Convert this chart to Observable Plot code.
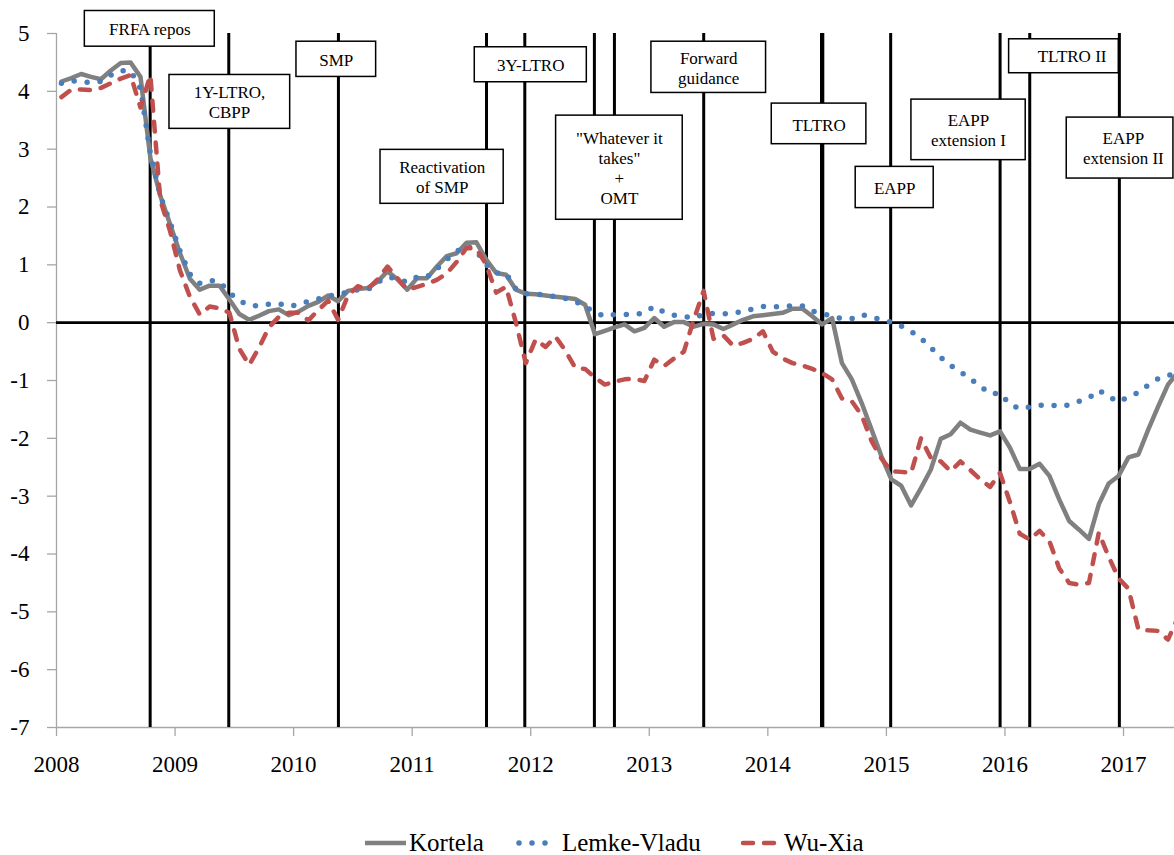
<!DOCTYPE html>
<html>
<head>
<meta charset="utf-8">
<script src="https://cdn.jsdelivr.net/npm/d3@7"></script>
<script src="https://cdn.jsdelivr.net/npm/@observablehq/plot@0.6"></script>
<style>
  body { margin: 0; background: #fff; position: relative; width: 1174px; height: 855px; overflow: hidden; }
  #chart { position: absolute; left: 0; top: 0; }
  #chart svg, #chart svg text { font-family: "Liberation Serif", "Times New Roman", "DejaVu Serif", serif !important; }
  .lg { position: absolute; font-family: "Liberation Serif", "Times New Roman", "DejaVu Serif", serif; font-size: 25px; line-height: 28px; color: #000; white-space: nowrap; }
  .sw { position: absolute; }
</style>
</head>
<body>
<div id="chart"></div>
<div id="legend"></div>
<script>
// ---- categories: monthly observations Jan 2008 .. Jun 2017 (plotted mid-month, decimal years)
const monthCount = 114;
const months = d3.range(monthCount).map(i => 2008 + (i + 0.5) / 12);

// ---- tick labels
const xTicks = d3.range(2008, 2018);
const yTicks = d3.range(-7, 6);

// ---- series values (%)
const kortela = [
  4.17, 4.23, 4.30, 4.25, 4.21, 4.36, 4.49, 4.50, 4.25, 2.85, 2.20, 1.70,
  1.20, 0.76, 0.57, 0.64, 0.64, 0.40, 0.15, 0.05, 0.12, 0.20, 0.23, 0.13,
  0.19, 0.29, 0.36, 0.47, 0.37, 0.55, 0.58, 0.60, 0.71, 0.89, 0.75, 0.57,
  0.77, 0.77, 0.97, 1.15, 1.20, 1.38, 1.39, 1.09, 0.86, 0.83, 0.57, 0.50,
  0.49, 0.47, 0.45, 0.43, 0.41, 0.31, -0.20, -0.14, -0.08, -0.03, -0.15, -0.09,
  0.08, -0.07, 0.01, 0.01, -0.07, -0.02, -0.03, -0.11, -0.03, 0.05, 0.11, 0.13,
  0.15, 0.17, 0.24, 0.24, 0.11, -0.03, 0.08, -0.70, -0.98, -1.39, -1.85, -2.31,
  -2.71, -2.82, -3.16, -2.86, -2.54, -2.01, -1.93, -1.73, -1.85, -1.90, -1.95, -1.88,
  -2.16, -2.53, -2.53, -2.44, -2.65, -3.06, -3.43, -3.58, -3.74, -3.14, -2.78, -2.65,
  -2.33, -2.28, -1.85, -1.45, -1.07, -0.86
];
const lemkeVladu = [
  4.14, 4.18, 4.17, 4.15, 4.17, 4.28, 4.36, 4.35, 4.05, 2.93, 2.20, 1.73,
  1.24, 0.84, 0.68, 0.73, 0.71, 0.52, 0.38, 0.30, 0.29, 0.32, 0.33, 0.28,
  0.31, 0.37, 0.41, 0.46, 0.49, 0.53, 0.57, 0.57, 0.70, 0.79, 0.76, 0.70,
  0.79, 0.79, 0.93, 1.09, 1.23, 1.33, 1.24, 1.00, 0.86, 0.85, 0.58, 0.50,
  0.50, 0.47, 0.45, 0.42, 0.37, 0.28, 0.18, 0.11, 0.14, 0.14, 0.14, 0.17,
  0.28, 0.18, 0.13, 0.11, 0.08, 0.15, 0.16, 0.15, 0.17, 0.19, 0.24, 0.28,
  0.27, 0.28, 0.29, 0.29, 0.20, 0.16, 0.11, 0.07, 0.07, 0.14, 0.10, 0.05,
  0.01, -0.06, -0.15, -0.27, -0.43, -0.60, -0.74, -0.85, -0.97, -1.10, -1.23, -1.22,
  -1.41, -1.49, -1.46, -1.43, -1.42, -1.45, -1.42, -1.36, -1.30, -1.17, -1.28, -1.37,
  -1.28, -1.21, -1.08, -0.97, -0.91, -0.88
];
const wuXia = [
  3.90, 4.03, 4.03, 4.02, 4.06, 4.14, 4.22, 4.28, 3.72, 4.28, 2.12, 1.58,
  0.90, 0.45, 0.14, 0.28, 0.25, 0.17, -0.45, -0.73, -0.43, -0.08, 0.10, 0.17,
  0.17, 0.04, 0.22, 0.38, 0.05, 0.47, 0.63, 0.58, 0.75, 0.97, 0.77, 0.57,
  0.62, 0.67, 0.74, 0.85, 1.05, 1.29, 1.28, 1.00, 0.52, 0.62, 0.00, -0.70,
  -0.29, -0.42, -0.24, -0.48, -0.78, -0.80, -0.95, -1.07, -1.02, -0.98, -0.97, -1.01,
  -0.64, -0.75, -0.62, -0.50, 0.05, 0.55, -0.28, -0.22, -0.40, -0.35, -0.28, -0.15,
  -0.50, -0.62, -0.70, -0.74, -0.80, -0.87, -0.98, -1.31, -1.36, -1.60, -2.05, -2.35,
  -2.57, -2.58, -2.60, -2.00, -2.34, -2.40, -2.57, -2.40, -2.55, -2.71, -2.84, -2.60,
  -3.10, -3.65, -3.75, -3.60, -3.78, -4.25, -4.50, -4.53, -4.50, -3.63, -4.05, -4.42,
  -4.60, -5.30, -5.32, -5.33, -5.48, -5.10
];

// ---- policy events (decimal year of announcement)
const eventNames = ["FRFA repos", "1Y-LTRO, CBPP", "SMP", "Reactivation of SMP", "3Y-LTRO",
  "\"Whatever it takes\"", "OMT", "Forward guidance", "TLTRO", "EAPP", "EAPP extension I", "TLTRO II", "EAPP extension II"];
const eventDates = [2008.790, 2009.453, 2010.378, 2011.627, 2011.950,
  2012.537, 2012.706, 2013.459, 2014.458, 2015.036, 2015.959, 2016.209, 2016.965];

// ---- annotation labels (text)
const boxLabels = ["FRFA repos", "1Y-LTRO,\nCBPP", "SMP", "Reactivation\nof SMP", "3Y-LTRO",
  "\"Whatever it\ntakes\"\n+\nOMT", "Forward\nguidance", "TLTRO", "EAPP", "EAPP\nextension I", "TLTRO II", "EAPP\nextension II"];

// ---- annotation layout (data units), kept separate from the values
const boxLayout = [
  {x1: 2008.239, x2: 2009.335, y1: 4.772, y2: 5.389, tx: 2008.787, ty: 5.078},
  {x1: 2008.953, x2: 2009.971, y1: 3.351, y2: 4.283, tx: 2009.459, ty: 3.817},
  {x1: 2010.024, x2: 2010.696, y1: 4.249, y2: 4.858, tx: 2010.360, ty: 4.551},
  {x1: 2010.733, x2: 2011.772, y1: 2.055, y2: 2.988, tx: 2011.253, ty: 2.522},
  {x1: 2011.528, x2: 2012.473, y1: 4.157, y2: 4.762, tx: 2012.000, ty: 4.465},
  {x1: 2012.214, x2: 2013.282, y1: 1.779, y2: 3.580, tx: 2012.748, ty: 2.677},
  {x1: 2013.018, x2: 2013.985, y1: 3.972, y2: 4.858, tx: 2013.501, ty: 4.413},
  {x1: 2014.033, x2: 2014.831, y1: 3.086, y2: 3.788, tx: 2014.432, ty: 3.428},
  {x1: 2014.741, x2: 2015.399, y1: 1.981, y2: 2.694, tx: 2015.070, ty: 2.332},
  {x1: 2015.211, x2: 2016.175, y1: 2.810, y2: 3.857, tx: 2015.692, ty: 3.333},
  {x1: 2016.035, x2: 2016.960, y1: 4.313, y2: 4.900, tx: 2016.566, ty: 4.611},
  {x1: 2016.521, x2: 2017.421, y1: 2.492, y2: 3.546, tx: 2016.999, ty: 3.022}
];

const xDomain = [2008, 2017.43];
const yDomain = [-7, 5];

const kData = months.map((x, i) => ({x, y: kortela[i]}));
const lData = months.map((x, i) => ({x, y: lemkeVladu[i]}));
const wData = months.map((x, i) => ({x, y: wuXia[i]}));
const events = eventDates.map((d, i) => ({date: d, name: eventNames[i]}));
const boxes = boxLayout.map((b, i) => ({...b, label: boxLabels[i]}));

const GRAY = "#808080", BLUE = "#4a7ebb", RED = "#c0504d", AXIS = "#a6a6a6";
const FONT = "'Liberation Serif', 'Times New Roman', 'DejaVu Serif', serif";

const chart = Plot.plot({
  width: 1174,
  height: 800,
  marginLeft: 56,
  marginRight: 0,
  marginTop: 33,
  marginBottom: 73,
  style: {fontFamily: FONT, fontSize: "23px", background: "white", overflow: "visible"},
  x: {type: "linear", domain: xDomain, axis: null},
  y: {type: "linear", domain: yDomain, axis: null},
  marks: [
    Plot.ruleX([xDomain[0]], {stroke: AXIS, strokeWidth: 1.3}),
    Plot.ruleY([yDomain[0]], {stroke: AXIS, strokeWidth: 1.3}),
    Plot.axisY({ticks: yTicks, tickSize: 9, tickPadding: 18, tickFormat: d => String(d), stroke: AXIS, strokeWidth: 1.3, fontSize: 23, fontFamily: FONT, label: null}),
    Plot.axisX({ticks: xTicks, tickSize: 9, tickPadding: 19, tickFormat: d => String(d), stroke: AXIS, strokeWidth: 1.3, fontSize: 23, fontFamily: FONT, label: null}),
    Plot.ruleX(events, {x: "date", stroke: "#000", strokeWidth: d => d.name === "TLTRO" ? 4.3 : 3}),
    Plot.ruleY([0], {stroke: "#000", strokeWidth: 2.6}),
    Plot.line(kData, {x: "x", y: "y", stroke: GRAY, strokeWidth: 4.5, strokeLinejoin: "round", clip: true}),
    Plot.line(lData, {x: "x", y: "y", stroke: BLUE, strokeWidth: 5.5, strokeLinecap: "round", strokeDasharray: "0 13", clip: true}),
    Plot.line(wData, {x: "x", y: "y", stroke: RED, strokeWidth: 4.5, strokeLinecap: "round", strokeLinejoin: "round", strokeDasharray: "10 11", clip: true}),
    Plot.rect(boxes, {x1: "x1", x2: "x2", y1: "y1", y2: "y2", fill: "white", stroke: "#000", strokeWidth: 1.5}),
    Plot.text(boxes, {x: "tx", y: "ty", text: "label", fontSize: 17, fontFamily: FONT, lineHeight: 1.18, fill: "#000"})
  ]
});
document.getElementById("chart").appendChild(chart);

// ---- legend (below the chart)
const legendItems = [
  {name: "Kortela", color: GRAY, dash: null, width: 4.5, sx: 365, sw: 41, tx: 409},
  {name: "Lemke-Vladu", color: BLUE, dash: "0 13", width: 5.5, sx: 516, sw: 34, tx: 562},
  {name: "Wu-Xia", color: RED, dash: "10 11", width: 4.5, sx: 740, sw: 40, tx: 784}
];
const legend = document.getElementById("legend");
for (const it of legendItems) {
  const ns = "http://www.w3.org/2000/svg";
  const s = document.createElementNS(ns, "svg");
  s.setAttribute("width", it.sw); s.setAttribute("height", 12);
  s.setAttribute("class", "sw");
  s.style.left = it.sx + "px"; s.style.top = "837px";
  const l = document.createElementNS(ns, "line");
  const pad = it.dash ? 3 : 0;
  l.setAttribute("x1", pad); l.setAttribute("x2", it.sw - pad);
  l.setAttribute("y1", 6); l.setAttribute("y2", 6);
  l.setAttribute("stroke", it.color); l.setAttribute("stroke-width", it.width);
  if (it.dash) { l.setAttribute("stroke-dasharray", it.dash); l.setAttribute("stroke-linecap", "round"); }
  s.appendChild(l);
  legend.appendChild(s);
  const t = document.createElement("div");
  t.className = "lg"; t.textContent = it.name;
  t.style.left = it.tx + "px"; t.style.top = "829px";
  legend.appendChild(t);
}
</script>
</body>
</html>
